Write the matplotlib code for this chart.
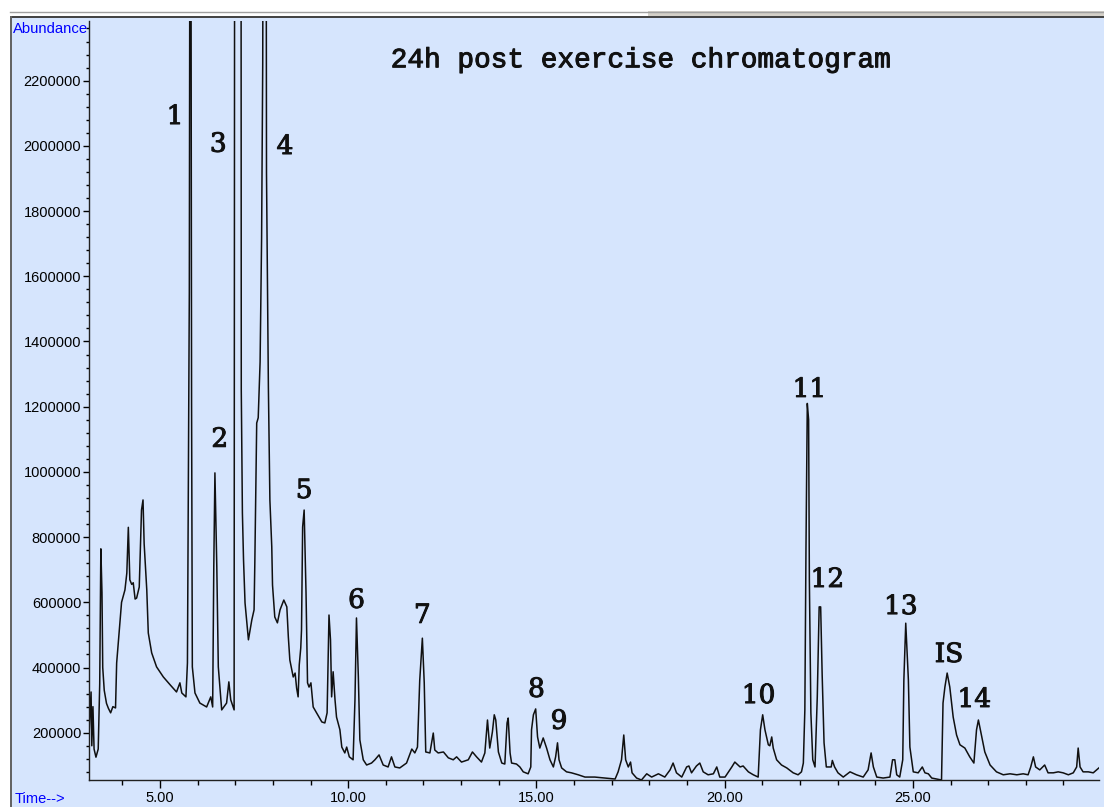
import matplotlib
matplotlib.use("Agg")
import matplotlib.pyplot as plt
import matplotlib.patheffects as pe
from matplotlib.patches import Rectangle
from matplotlib.lines import Line2D
from matplotlib.ticker import MultipleLocator, FormatStrFormatter

plt.rcParams['font.family'] = 'Liberation Sans'

# retention time (min) and total ion abundance of the trace
rt = [3.11, 3.17, 3.19, 3.22, 3.25, 3.30, 3.36, 3.40, 3.43, 3.46, 3.48, 3.52, 3.58, 3.63, 3.69,
      3.75, 3.82, 3.85, 3.91, 3.98, 4.07, 4.12, 4.16, 4.20, 4.25, 4.29, 4.34, 4.38, 4.45, 4.51,
      4.55, 4.58, 4.65, 4.69, 4.78, 4.91, 5.09, 5.27, 5.44, 5.53, 5.58, 5.69, 5.73, 5.78, 5.81,
      5.84, 5.86, 5.93, 6.06, 6.24, 6.35, 6.40, 6.43, 6.46, 6.51, 6.55, 6.64, 6.77, 6.83, 6.88,
      6.97, 6.99, 7.07, 7.15, 7.16, 7.19, 7.22, 7.26, 7.35, 7.44, 7.50, 7.52, 7.57, 7.61, 7.66,
      7.70, 7.73, 7.76, 7.81, 7.83, 7.88, 7.92, 7.97, 7.99, 8.05, 8.12, 8.19, 8.29, 8.37, 8.41,
      8.45, 8.54, 8.59, 8.63, 8.67, 8.70, 8.74, 8.76, 8.79, 8.83, 8.88, 8.92, 8.96, 9.01, 9.07,
      9.16, 9.30, 9.38, 9.44, 9.49, 9.53, 9.56, 9.60, 9.65, 9.69, 9.78, 9.83, 9.91, 9.96, 10.03,
      10.13, 10.18, 10.22, 10.27, 10.31, 10.40, 10.49, 10.62, 10.71, 10.82, 10.93, 11.06, 11.15, 11.24, 11.37,
      11.55, 11.69, 11.77, 11.84, 11.90, 11.97, 12.02, 12.06, 12.17, 12.26, 12.30, 12.39, 12.53, 12.66, 12.79,
      12.88, 13.01, 13.19, 13.30, 13.41, 13.54, 13.63, 13.70, 13.76, 13.83, 13.88, 13.92, 13.99, 14.08, 14.16,
      14.22, 14.25, 14.30, 14.34, 14.47, 14.56, 14.65, 14.78, 14.85, 14.87, 14.92, 14.98, 15.03, 15.09, 15.18,
      15.27, 15.36, 15.45, 15.51, 15.56, 15.60, 15.67, 15.80, 15.93, 16.11, 16.29, 16.55, 16.82, 17.09, 17.17,
      17.26, 17.32, 17.37, 17.44, 17.50, 17.54, 17.66, 17.79, 17.93, 18.06, 18.24, 18.41, 18.55, 18.63, 18.72,
      18.86, 18.99, 19.05, 19.12, 19.25, 19.34, 19.43, 19.56, 19.70, 19.79, 19.87, 20.01, 20.19, 20.27, 20.41,
      20.49, 20.63, 20.76, 20.89, 20.95, 21.01, 21.07, 21.16, 21.20, 21.25, 21.29, 21.38, 21.51, 21.65, 21.82,
      21.95, 22.04, 22.09, 22.13, 22.16, 22.195, 22.23, 22.25, 22.29, 22.34, 22.40, 22.46, 22.51, 22.55, 22.59,
      22.64, 22.70, 22.83, 22.86, 22.92, 23.01, 23.15, 23.33, 23.50, 23.68, 23.81, 23.89, 23.95, 24.04, 24.21,
      24.39, 24.46, 24.52, 24.57, 24.65, 24.73, 24.76, 24.81, 24.88, 24.92, 25.01, 25.14, 25.25, 25.32, 25.41,
      25.50, 25.63, 25.76, 25.80, 25.85, 25.91, 25.98, 26.07, 26.16, 26.25, 26.38, 26.51, 26.62, 26.69, 26.74,
      26.83, 26.91, 27.05, 27.22, 27.40, 27.58, 27.76, 27.93, 28.06, 28.13, 28.20, 28.26, 28.37, 28.50, 28.59,
      28.73, 28.86, 28.99, 29.13, 29.26, 29.35, 29.39, 29.44, 29.52, 29.66, 29.79, 29.88, 29.97]

abundance = [180000, 325000, 160000, 280000, 150000, 125000, 150000, 350000, 764000, 630000, 400000, 330000, 290000, 275000, 261000,
             280000, 276000, 414000, 500000, 600000, 638000, 690000, 830000, 669000, 655000, 660000, 610000, 613000, 647000, 883000,
             914000, 780000, 638000, 506000, 445000, 402000, 371000, 347000, 325000, 353000, 322000, 310000, 414000, 1550000, 4000000,
             1210000, 402000, 322000, 291000, 279000, 310000, 279000, 709000, 997000, 709000, 402000, 270000, 291000, 356000, 301000,
             270000, 4000000, 4200000, 4000000, 1252000, 874000, 730000, 598000, 485000, 546000, 577000, 721000, 1150000, 1166000, 1337000,
             1718000, 2255000, 4000000, 4000000, 1917000, 1261000, 914000, 770000, 653000, 555000, 537000, 577000, 607000, 586000, 494000,
             423000, 371000, 383000, 337000, 310000, 408000, 460000, 515000, 831000, 883000, 629000, 353000, 340000, 353000, 279000,
             261000, 233000, 230000, 261000, 561000, 485000, 310000, 387000, 301000, 248000, 209000, 156000, 138000, 156000, 126000,
             117000, 301000, 552000, 371000, 178000, 117000, 101000, 107000, 117000, 132000, 101000, 95000, 126000, 95000, 92000,
             107000, 150000, 138000, 156000, 360000, 490000, 353000, 141000, 138000, 199000, 147000, 138000, 141000, 123000, 117000,
             126000, 110000, 117000, 141000, 126000, 110000, 138000, 239000, 153000, 202000, 255000, 239000, 141000, 107000, 104000,
             230000, 245000, 138000, 107000, 104000, 95000, 80000, 74000, 95000, 209000, 255000, 273000, 187000, 153000, 184000,
             153000, 117000, 95000, 126000, 169000, 117000, 92000, 80000, 77000, 71000, 64000, 64000, 61000, 58000, 80000,
             117000, 193000, 117000, 95000, 110000, 77000, 61000, 55000, 74000, 64000, 74000, 64000, 86000, 107000, 77000,
             64000, 95000, 98000, 77000, 98000, 107000, 80000, 71000, 74000, 95000, 64000, 64000, 95000, 110000, 95000,
             98000, 80000, 71000, 64000, 209000, 255000, 209000, 163000, 160000, 187000, 153000, 117000, 101000, 92000, 77000,
             71000, 80000, 107000, 270000, 767000, 1210000, 1160000, 669000, 261000, 117000, 95000, 310000, 586000, 586000, 377000,
             169000, 95000, 95000, 115000, 95000, 77000, 64000, 80000, 71000, 64000, 86000, 138000, 95000, 64000, 61000,
             64000, 117000, 117000, 71000, 64000, 117000, 362000, 536000, 362000, 156000, 80000, 77000, 95000, 77000, 74000,
             61000, 58000, 55000, 291000, 340000, 383000, 340000, 248000, 193000, 163000, 153000, 126000, 107000, 209000, 239000,
             187000, 141000, 101000, 80000, 71000, 74000, 71000, 74000, 71000, 95000, 126000, 95000, 86000, 101000, 77000,
             77000, 80000, 77000, 71000, 77000, 95000, 153000, 95000, 80000, 80000, 77000, 86000, 95000]

# peak annotations: label, retention time, baseline height of the label
peak_labels = ['1', '2', '3', '4', '5', '6', '7', '8', '9', '10', '11', '12', '13', 'IS', '14']
label_rt = [5.40, 6.59, 6.55, 8.32, 8.83, 10.22, 11.97, 15.00, 15.60, 20.90, 22.25, 22.73, 24.68, 25.96, 26.63]
label_y = [2067000, 1077000, 1982000, 1975000, 920000, 583000, 537000, 310000, 212000, 291000,
           1230000, 647000, 564000, 417000, 279000]

bg = '#D6E5FD'
W, H = 1104, 807

fig = plt.figure(figsize=(W / 100, H / 100), dpi=100, facecolor='white')

# window panel behind the plot
fig.patches.append(Rectangle((12 / W, 0), 1 - 12 / W, 1 - 18 / H, transform=fig.transFigure,
                             facecolor=bg, edgecolor='none', zorder=-3))
fig.patches.append(Rectangle((648 / W, 1 - 16 / H), 1 - 648 / W, 5 / H, transform=fig.transFigure,
                             facecolor='#D4D0C8', edgecolor='none', zorder=-3))
fig.lines.append(Line2D([10 / W, 1], [1 - 11.5 / H, 1 - 11.5 / H], transform=fig.transFigure,
                        color='#A0A0A0', lw=1.0, zorder=-2))
fig.lines.append(Line2D([11 / W, 1], [1 - 17 / H, 1 - 17 / H], transform=fig.transFigure,
                        color='#404040', lw=1.4, zorder=-2))
fig.lines.append(Line2D([11.3 / W, 11.3 / W], [0, 1 - 17 / H], transform=fig.transFigure,
                        color='#606060', lw=1.4, zorder=-2))

ax = fig.add_axes([88.8 / W, 27 / H, (1098.5 - 88.8) / W, 759 / H])
ax.set_zorder(1)
ax.set_facecolor('none')
ax.plot(rt, abundance, color='#101010', lw=1.1)

ax.set_xlim(3.11, 29.93)
ax.set_ylim(55000, 2383000)

for s in ['top', 'right']:
    ax.spines[s].set_visible(False)
for s in ['left', 'bottom']:
    ax.spines[s].set_color('#202020')
    ax.spines[s].set_linewidth(1.0)

ax.xaxis.set_major_locator(MultipleLocator(5))
ax.xaxis.set_minor_locator(MultipleLocator(1))
ax.xaxis.set_major_formatter(FormatStrFormatter('%.2f'))
ax.yaxis.set_major_locator(MultipleLocator(200000))
ax.yaxis.set_minor_locator(MultipleLocator(40000))
ax.yaxis.set_major_formatter(FormatStrFormatter('%d'))

ax.tick_params(axis='x', which='major', direction='out', length=6, width=1, pad=2, labelsize=10.5)
ax.tick_params(axis='x', which='minor', direction='out', length=3.5, width=1)
ax.tick_params(axis='y', which='major', direction='out', length=4.5, width=1, pad=1, labelsize=10.5)
ax.tick_params(axis='y', which='minor', direction='out', length=2.2, width=1)

# slightly heavier strokes for the peak numbers and the title
heavy = [pe.withStroke(linewidth=0.7, foreground='#111111')]

for lab, x, y in zip(peak_labels, label_rt, label_y):
    ax.text(x, y, lab, ha='center', va='baseline', fontsize=19, family='DejaVu Serif',
            color='#111111', path_effects=heavy)

ax.text(0.546, 0.939, '24h post exercise chromatogram', transform=ax.transAxes,
        ha='center', va='baseline', fontsize=20, family='Liberation Mono', color='#111111',
        path_effects=heavy)

fig.text(13 / W, 1 - 33.3 / H, 'Abundance', color='#0000FF', fontsize=10.7, va='baseline', ha='left')
fig.text(15 / W, 1 - 803 / H, 'Time-->', color='#0000FF', fontsize=10.5, va='baseline', ha='left')

fig.savefig('out.png', dpi=100, facecolor='white')
